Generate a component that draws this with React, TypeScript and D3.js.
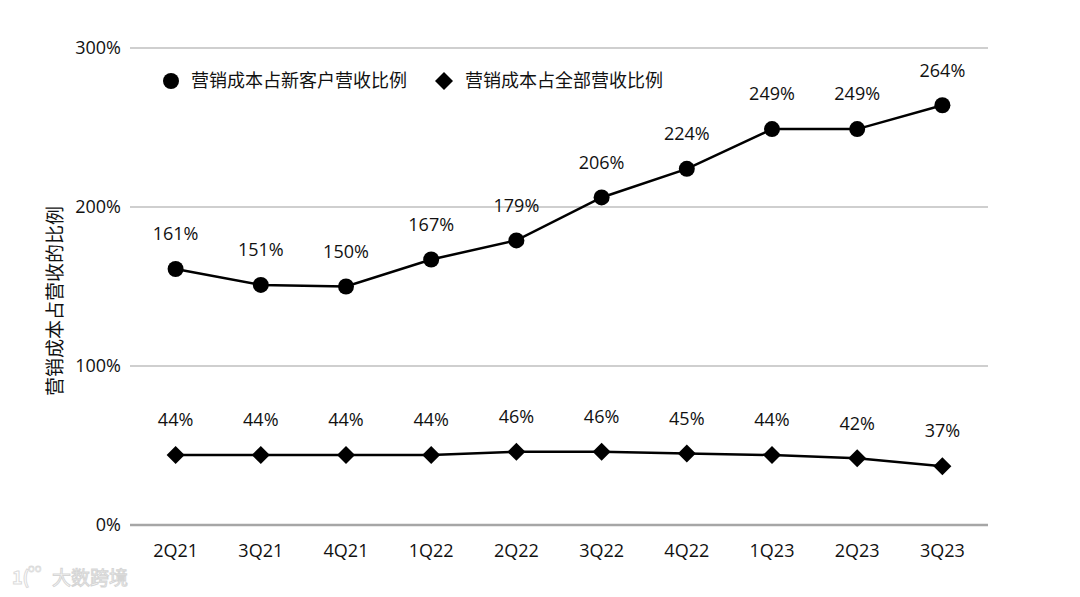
import React from "react";
import * as d3 from "d3";

const categories = ["2Q21", "3Q21", "4Q21", "1Q22", "2Q22", "3Q22", "4Q22", "1Q23", "2Q23", "3Q23"];
const newCustomerRatio = [161, 151, 150, 167, 179, 206, 224, 249, 249, 264];
const totalRatio = [44, 44, 44, 44, 46, 46, 45, 44, 42, 37];
const yTicks = [0, 100, 200, 300];
const seriesNames = ["营销成本占新客户营收比例", "营销成本占全部营收比例"];
const yTitle = "营销成本占营收的比例";

const W = 1080, H = 597;
const FONT = "'Noto Sans CJK SC', 'Noto Sans', sans-serif";
const NUM_FONT = "'Open Sans', 'Noto Sans', sans-serif";

export default function App() {
  const x = d3.scaleBand<string>().domain(categories).range([133, 985]);
  const y = d3.scaleLinear().domain([0, 300]).range([525, 48]);
  const cx = (c: string) => (x(c) as number) + x.bandwidth() / 2;
  const line = d3.line<number>().x((_, i) => cx(categories[i])).y((d) => y(d));
  const diamond = (px: number, py: number, r: number) =>
    `M${px},${py - r}L${px + r},${py}L${px},${py + r}L${px - r},${py}Z`;

  return (
    <svg width={W} height={H} style={{ position: "absolute", left: 0, top: 0, background: "#fff" }} fontFamily={FONT}>
      <rect width={W} height={H} fill="#fff" />
      {yTicks.map((t) => (
        <g key={t}>
          <line x1={130} x2={988} y1={y(t)} y2={y(t)} stroke={t === 0 ? "#a6a6a6" : "#bfbfbf"} strokeWidth={t === 0 ? 2.5 : 1.5} />
          <text x={121} y={y(t)} dy="0.35em" textAnchor="end" fontSize={18} fontFamily={NUM_FONT} fill="#111">{t}%</text>
        </g>
      ))}
      <text transform={`translate(55,${301}) rotate(-90)`} textAnchor="middle" dy="0.35em" fontSize={19} fill="#111">{yTitle}</text>
      {categories.map((c) => (
        <text key={c} x={cx(c)} y={551} dy="0.35em" textAnchor="middle" fontSize={18} fontFamily={NUM_FONT} fill="#111">{c}</text>
      ))}
      <path d={line(newCustomerRatio) || ""} fill="none" stroke="#000" strokeWidth={2.5} />
      <path d={line(totalRatio) || ""} fill="none" stroke="#000" strokeWidth={2.5} />
      {newCustomerRatio.map((v, i) => (
        <g key={"a" + i}>
          <circle cx={cx(categories[i])} cy={y(v)} r={8} fill="#000" />
          <text x={cx(categories[i])} y={y(v) - 35} dy="0.35em" textAnchor="middle" fontSize={18} fontFamily={NUM_FONT} fill="#111">{v}%</text>
        </g>
      ))}
      {totalRatio.map((v, i) => (
        <g key={"b" + i}>
          <path d={diamond(cx(categories[i]), y(v), 9)} fill="#000" />
          <text x={cx(categories[i])} y={y(v) - 35} dy="0.35em" textAnchor="middle" fontSize={18} fontFamily={NUM_FONT} fill="#111">{v}%</text>
        </g>
      ))}
      <circle cx={171} cy={81} r={8} fill="#000" />
      <text x={191} y={81} dy="0.35em" fontSize={18} fill="#111">{seriesNames[0]}</text>
      <path d={diamond(444, 81, 9)} fill="#000" />
      <text x={465} y={81} dy="0.35em" fontSize={18} fill="#111">{seriesNames[1]}</text>
      <g opacity={0.35}>
        <text x={12} y={578} dy="0.35em" fontSize={18} fontWeight="bold" fill="none" stroke="#999" strokeWidth={1}>1(</text>
        <text x={28} y={568} dy="0.35em" fontSize={11} fill="none" stroke="#999" strokeWidth={0.8}>oo</text>
        <text x={52} y={578} dy="0.35em" fontSize={19} fill="#fff" stroke="#888" strokeWidth={1}>大数跨境</text>
      </g>
    </svg>
  );
}
